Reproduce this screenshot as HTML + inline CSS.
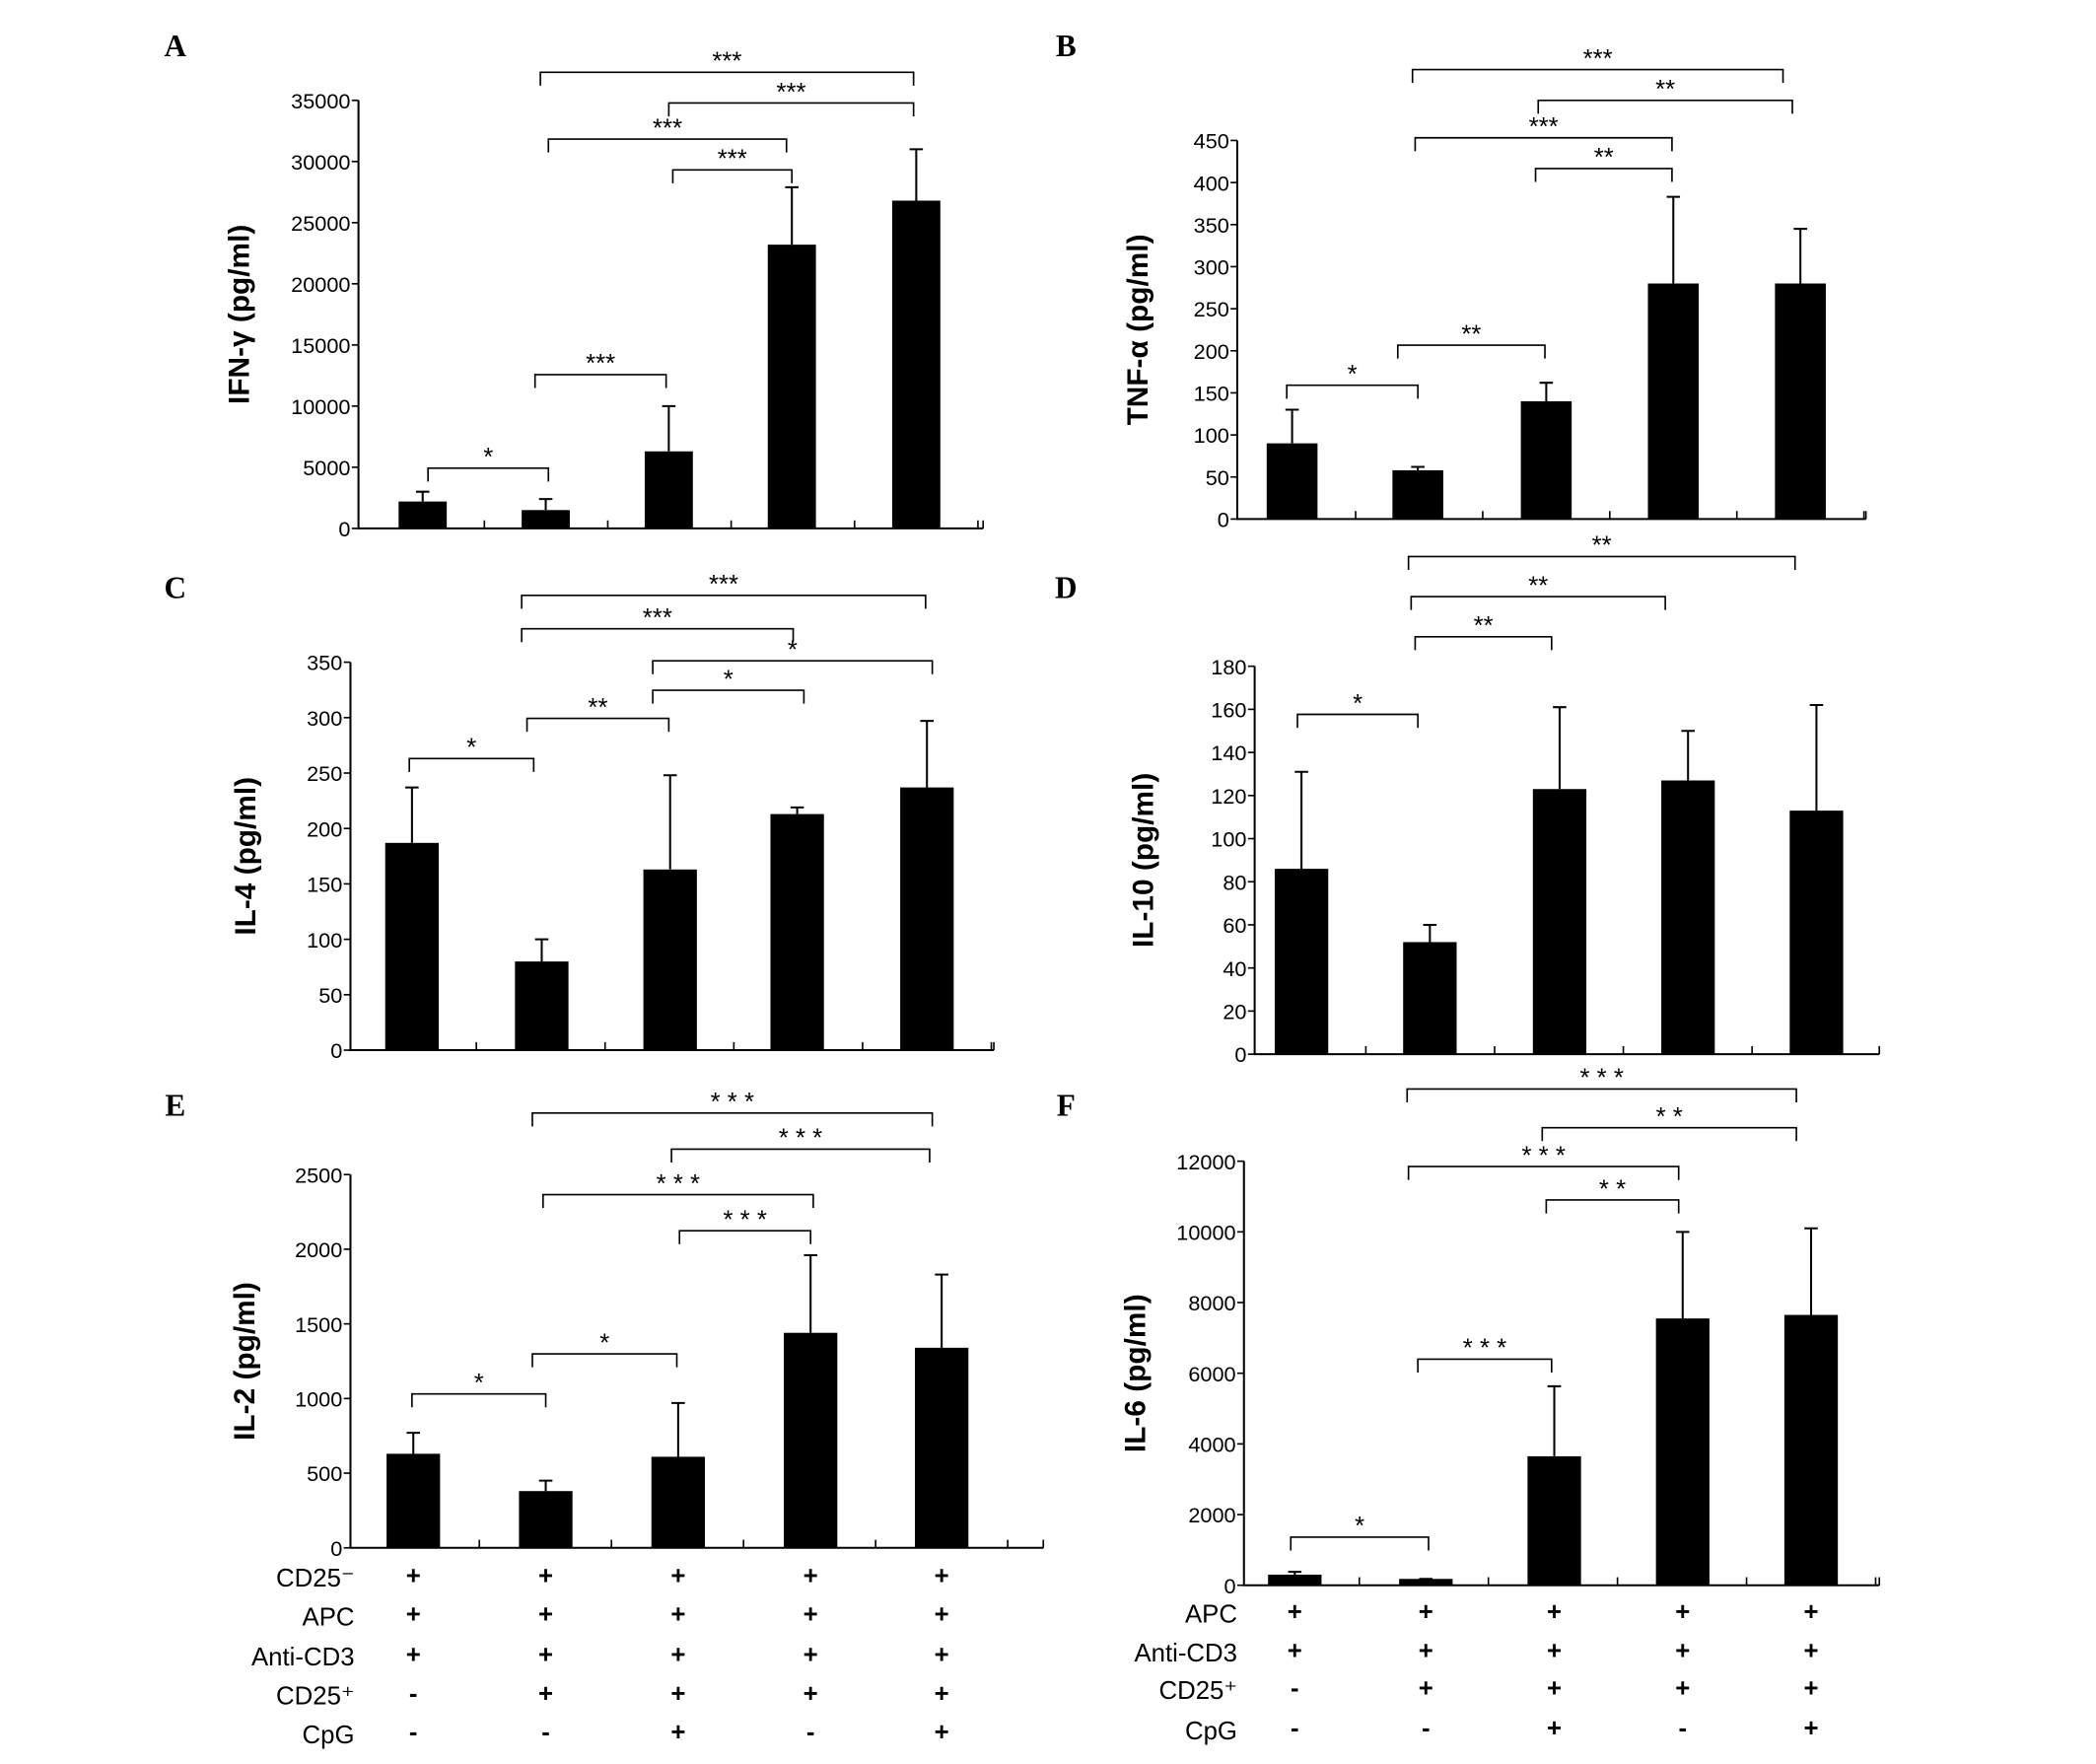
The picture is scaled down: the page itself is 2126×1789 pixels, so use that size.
<!DOCTYPE html>
<html><head><meta charset="utf-8"><style>
html,body{margin:0;padding:0;background:#fff}
svg{display:block}
text{font-family:"Liberation Sans",sans-serif;fill:#000}
</style></head><body>
<svg id="fig" width="2126" height="1789" viewBox="0 0 1567 1318.6" xmlns="http://www.w3.org/2000/svg"></svg>
<script>
// ---- data ----
const categories = ["g1","g2","g3","g4","g5"];
const ifngValues = [2200,1500,6300,23200,26800];
const ifngErrors = [800,900,3700,4700,4200];
const ifngTicks = [0,5000,10000,15000,20000,25000,30000,35000];
const tnfValues = [90,58,140,280,280];
const tnfErrors = [40,4,22,103,65];
const tnfTicks = [0,50,100,150,200,250,300,350,400,450];
const il4Values = [187,80,163,213,237];
const il4Errors = [50,20,85,6,60];
const il4Ticks = [0,50,100,150,200,250,300,350];
const il10Values = [86,52,123,127,113];
const il10Errors = [45,8,38,23,49];
const il10Ticks = [0,20,40,60,80,100,120,140,160,180];
const il2Values = [630,380,610,1440,1340];
const il2Errors = [140,70,360,520,490];
const il2Ticks = [0,500,1000,1500,2000,2500];
const il6Values = [300,180,3650,7550,7650];
const il6Errors = [80,0,1980,2450,2450];
const il6Ticks = [0,2000,4000,6000,8000,10000,12000];

const NS="http://www.w3.org/2000/svg";
const svg=document.getElementById('fig');
function mk(tag,attrs,parent,txt){const e=document.createElementNS(NS,tag);for(const k in attrs)e.setAttribute(k,attrs[k]);if(txt!==undefined)e.textContent=txt;(parent||svg).appendChild(e);return e;}

const panels=[
 {id:'a',letter:'A',lx:131,ly:42,tx:186,title:'IFN-γ  (pg/ml)',vals:ifngValues,errs:ifngErrors,ticks:ifngTicks,x0:268,x1:735,yT:75,yB:395,centers:[316,408,500,592,685],bw:36,
  br:[[320,410,350,'*'],[400,498,280,'***'],[503,592,127,'***'],[410,588,104,'***'],[500,683,77,'***'],[404,683,54,'***']]},
 {id:'b',letter:'B',lx:797,ly:42,tx:858,title:'TNF-α (pg/ml)',vals:tnfValues,errs:tnfErrors,ticks:tnfTicks,x0:925,x1:1395,yT:105,yB:388,centers:[966,1060,1156,1251,1346],bw:38,
  br:[[962,1060,288,'*'],[1045,1155,258,'**'],[1148,1250,126,'**'],[1058,1250,103,'***'],[1150,1340,75,'**'],[1056,1333,52,'***']]},
 {id:'c',letter:'C',lx:131,ly:447,tx:191,title:'IL-4  (pg/ml)',vals:il4Values,errs:il4Errors,ticks:il4Ticks,x0:262,x1:743,yT:495,yB:785,centers:[308,405,501,596,693],bw:40,
  br:[[306,399,567,'*'],[394,500,537,'**'],[488,601,516,'*'],[488,697,494,'*'],[390,593,470,'***'],[390,692,445,'***']]},
 {id:'d',letter:'D',lx:797,ly:447,tx:862,title:'IL-10  (pg/ml)',vals:il10Values,errs:il10Errors,ticks:il10Ticks,x0:938,x1:1405,yT:498,yB:788,centers:[973,1069,1166,1262,1358],bw:40,
  br:[[970,1060,534,'*'],[1058,1160,476,'**'],[1055,1245,446,'**'],[1053,1342,416,'**']]},
 {id:'e',letter:'E',lx:131,ly:834,tx:190,title:'IL-2 (pg/ml)',vals:il2Values,errs:il2Errors,ticks:il2Ticks,x0:262,x1:780,yT:878,yB:1157,centers:[309,408,507,606,704],bw:40,
  br:[[308,408,1042,'*'],[398,506,1012,'*'],[508,606,920,'* * *'],[406,608,893,'* * *'],[502,695,859,'* * *'],[398,697,832,'* * *']],
  rows:[['CD25⁻',1180,'+++++'],['APC',1209,'+++++'],['Anti-CD3',1239,'+++++'],['CD25⁺',1268,'-++++'],['CpG',1297,'--+-+']],rowX:265},
 {id:'f',letter:'F',lx:797,ly:834,tx:856,title:'IL-6 (pg/ml)',vals:il6Values,errs:il6Errors,ticks:il6Ticks,x0:930,x1:1405,yT:868,yB:1185,centers:[968,1066,1162,1258,1354],bw:40,
  br:[[965,1068,1149,'*'],[1060,1160,1016,'* * *'],[1156,1255,897,'* *'],[1053,1255,872,'* * *'],[1153,1343,843,'* *'],[1052,1343,814,'* * *']],
  rows:[['APC',1207,'+++++'],['Anti-CD3',1236,'+++++'],['CD25⁺',1264,'-++++'],['CpG',1294,'--+-+']],rowX:925}
];

panels.forEach(p=>{
  const g=mk('g',{});
  
  
  const max=p.ticks[p.ticks.length-1];
  const y=v=>p.yB-(v/max)*(p.yB-p.yT);
  const lab=mk('text',{x:p.lx,y:p.ly,style:'font-family:"Liberation Serif",serif;font-weight:bold;font-size:23px','text-anchor':'middle'},g,p.letter);
  
  
  const ax=mk('path',{d:`M${p.x0},${p.yT}V${p.yB}H${p.x1}`,stroke:'#000','stroke-width':1.5,fill:'none'},g);
  
  
  p.ticks.forEach(t=>{
    mk('line',{x1:p.x0-5,x2:p.x0,y1:y(t),y2:y(t),stroke:'#000','stroke-width':1.2},g);
    const tl=mk('text',{x:p.x0-6,y:y(t)+6,'font-size':16,'text-anchor':'end'},g,String(t));
    
    
  });
  const step=(p.centers[4]-p.centers[0])/4;
  for(let i=0;i<=5;i++){const xx=p.centers[0]-step/2+i*step; if(xx>p.x0+2&&xx<=p.x1+1) mk('line',{x1:xx,x2:xx,y1:p.yB,y2:p.yB-6,stroke:'#000','stroke-width':1.2},g);}
  mk('line',{x1:p.x1,x2:p.x1,y1:p.yB,y2:p.yB-6,stroke:'#000','stroke-width':1.2},g);
  const cy=(p.yT+p.yB)/2, tx=p.tx;
  const yt=mk('text',{x:tx,y:cy,'font-size':22,'font-weight':'bold','text-anchor':'middle',transform:`rotate(-90 ${tx} ${cy})`},g,p.title);
  
  
  categories.forEach((c,i)=>{
    const v=p.vals[i], e=p.errs[i], cx=p.centers[i];
    const b=mk('rect',{x:cx-p.bw/2,y:y(v),width:p.bw,height:p.yB-y(v),fill:'#000'},g);
    
    
    const er=mk('path',{d:`M${cx},${y(v)}V${y(v+e)}M${cx-5},${y(v+e)}H${cx+5}`,stroke:'#000','stroke-width':1.5,fill:'none'},g);
    
    
  });
  p.br.forEach(b=>{
    const [a,c,yy,s]=b;
    const bp=mk('path',{d:`M${a},${yy+10}V${yy}H${c}V${yy+10}`,stroke:'#000','stroke-width':1.2,fill:'none'},g);
    
    
    const st=mk('text',{x:(a+c)/2,y:yy-2,'font-size':19,'text-anchor':'middle'},g,s);
    
    
  });
  if(p.rows){p.rows.forEach(r=>{
    const rl=mk('text',{x:p.rowX,y:r[1]+6,'font-size':19,'text-anchor':'end'},g,r[0]);
    
    
    r[2].split('').forEach((s,i)=>{
      const sg=mk('text',{x:p.centers[i],y:r[1]+4,'font-size':19,'font-weight':'bold','text-anchor':'middle'},g,s);
      
      
    });
  });}
});
</script>
</body></html>
